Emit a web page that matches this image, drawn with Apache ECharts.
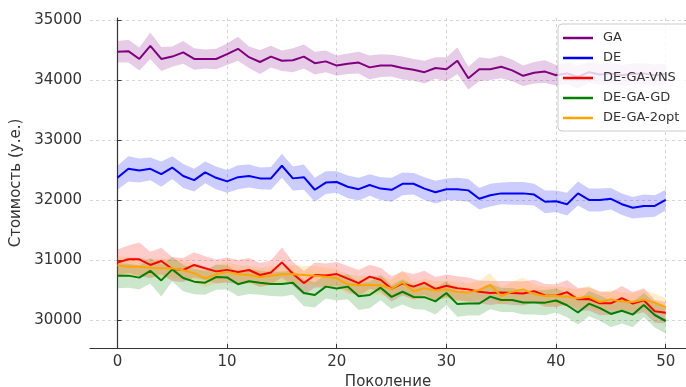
<!DOCTYPE html>
<html><head><meta charset="utf-8">
<script src="https://cdn.jsdelivr.net/npm/echarts@6/dist/echarts.min.js"></script>
<style>html,body{margin:0;padding:0;background:#fff}#c{width:686px;height:387px}</style>
</head><body><div id="c"></div>
<script>
const generations = [0,1,2,3,4,5,6,7,8,9,10,11,12,13,14,15,16,17,18,19,20,21,22,23,24,25,26,27,28,29,30,31,32,33,34,35,36,37,38,39,40,41,42,43,44,45,46,47,48,49,50];
const xTicks = [0,10,20,30,40,50];
const yTicks = [30000,31000,32000,33000,34000,35000];

const gaMean = [34470,34480,34350,34570,34350,34390,34460,34350,34350,34350,34430,34520,34380,34300,34390,34320,34330,34390,34280,34310,34240,34270,34290,34210,34240,34240,34200,34170,34130,34200,34180,34320,34030,34180,34180,34220,34160,34070,34120,34140,34080,34110,34050,34130,34090,34110,34080,34100,34110,34080,34100];
const gaSpread = [180,190,190,220,200,170,190,180,160,170,180,200,180,200,180,170,200,200,190,180,170,170,180,200,190,180,190,180,190,180,200,220,190,200,180,190,180,170,180,190,170,180,190,180,170,180,170,180,170,180,170];

const deMean = [32370,32520,32490,32520,32430,32540,32400,32330,32460,32370,32310,32380,32400,32360,32360,32570,32360,32380,32170,32290,32300,32220,32180,32250,32190,32170,32270,32270,32190,32130,32180,32180,32160,32020,32080,32110,32110,32110,32090,31970,31980,31930,32110,32000,32000,32020,31930,31870,31900,31900,32000];
const deSpread = [200,210,200,190,210,190,200,190,180,190,190,200,190,180,190,200,200,210,200,190,180,190,190,180,190,200,190,180,190,190,180,190,190,180,190,180,190,190,180,190,180,190,200,190,190,180,180,180,190,180,170];

const vnsMean = [30956,31011,31011,30917,30983,30850,30833,30917,30861,30810,30833,30800,30833,30750,30790,30960,30770,30615,30750,30740,30765,30690,30615,30722,30670,30520,30610,30556,30620,30517,30570,30530,30510,30470,30450,30460,30450,30440,30480,30410,30405,30465,30344,30350,30278,30278,30365,30275,30330,30145,30120];
const vnsSpread = [220,230,280,220,220,200,200,210,200,200,210,200,200,200,200,250,200,200,210,200,200,210,220,200,200,210,200,210,200,200,190,200,200,190,200,190,200,200,190,190,190,200,190,190,200,190,200,190,200,190,180];

const gdMean = [30739,30739,30706,30820,30660,30844,30700,30639,30622,30715,30710,30597,30645,30622,30600,30600,30622,30450,30417,30556,30525,30556,30395,30417,30539,30385,30470,30385,30380,30310,30450,30265,30275,30275,30389,30333,30333,30292,30292,30289,30325,30245,30125,30272,30197,30100,30153,30090,30250,30083,29983];
const gdSpread = [210,200,200,210,270,200,220,210,200,210,200,200,210,200,200,210,200,220,210,200,200,210,230,220,210,200,210,200,210,220,200,210,200,200,210,200,200,200,200,210,200,200,200,210,210,220,210,210,200,210,210];

const optMean = [30910,30889,30889,30872,30861,30861,30830,30780,30694,30761,30806,30761,30750,30715,30739,30761,30761,30750,30739,30722,30694,30594,30583,30583,30580,30520,30630,30480,30528,30490,30510,30472,30460,30500,30583,30400,30472,30510,30433,30400,30400,30389,30361,30390,30300,30340,30306,30300,30340,30289,30215];
const optSpread = [150,160,150,150,160,150,150,160,150,150,160,150,150,150,160,150,150,150,160,150,150,160,150,150,160,150,200,150,160,150,150,160,150,150,200,150,160,200,150,150,160,150,150,180,150,160,150,150,160,150,150];

const names = ['GA','DE','DE-GA-VNS','DE-GA-GD','DE-GA-2opt'];
const means = [gaMean, deMean, vnsMean, gdMean, optMean];
const spreads = [gaSpread, deSpread, vnsSpread, gdSpread, optSpread];
const colors = ['#800080','#0000ff','#ff0000','#008000','#ffa500'];

const series = [];
names.forEach((n, i) => {
  const upper = generations.map((g, j) => [g, means[i][j] + spreads[i][j]]);
  const lower = generations.map((g, j) => [g, means[i][j] - spreads[i][j]]);
  series.push({
    type: 'custom', name: n + ' band', silent: true, z: 1, clip: true,
    data: [[generations[0], means[i][0]]],
    renderItem: function (params, api) {
      const pts = [];
      upper.forEach(p => pts.push(api.coord(p)));
      for (let k = lower.length - 1; k >= 0; k--) pts.push(api.coord(lower[k]));
      return {
        type: 'polygon',
        shape: { points: pts },
        style: { fill: colors[i], opacity: 0.2, stroke: null }
      };
    }
  });
});
names.forEach((n, i) => {
  series.push({
    type: 'line', name: n, symbol: 'none', z: 2,
    itemStyle: { color: colors[i] },
    lineStyle: { color: colors[i], width: 2 },
    data: generations.map((g, j) => [g, means[i][j]])
  });
});

const font = 'DejaVu Sans';
const chart = echarts.init(document.getElementById('c'), null, { renderer: 'canvas' });
chart.setOption({
  animation: false,
  backgroundColor: '#fff',
  grid: { left: 90, right: 0, top: 18, bottom: 39, containLabel: false, outerBoundsMode: 'none' },
  xAxis: {
    type: 'value', min: -2.5, max: 51.85,
    name: 'Поколение', nameLocation: 'middle', nameGap: 26,
    nameTextStyle: { fontFamily: font, fontSize: 15, color: '#333' },
    axisLine: { show: true, lineStyle: { color: '#333', width: 1.2 } },
    axisTick: { show: true, inside: true, length: 4, customValues: xTicks, lineStyle: { color: '#333' } },
    axisLabel: { customValues: xTicks, fontFamily: font, fontSize: 15, color: '#333', margin: 7 },
    splitLine: { show: true, lineStyle: { color: '#cccccc', type: [3, 3], width: 0.8 } }
  },
  yAxis: {
    type: 'value', min: 29533, max: 35033,
    name: 'Стоимость (у.е.)', nameLocation: 'middle', nameGap: 52, nameRotate: 90,
    nameTextStyle: { fontFamily: font, fontSize: 15, color: '#333' },
    axisLine: { show: true, lineStyle: { color: '#333', width: 1.2 } },
    axisTick: { show: true, inside: true, length: 4, customValues: yTicks, lineStyle: { color: '#333' } },
    axisLabel: { customValues: yTicks, formatter: v => String(v), fontFamily: font, fontSize: 15, color: '#333', margin: 8 },
    splitLine: { show: true, lineStyle: { color: '#cccccc', type: [3, 3], width: 0.8 } }
  },
  legend: {
    data: names, orient: 'vertical', left: 558, top: 24, z: 10,
    icon: 'rect', itemWidth: 30, itemHeight: 2.5, itemGap: 6,
    padding: [7, 10, 6, 5],
    backgroundColor: 'rgba(255,255,255,0.8)', borderColor: '#cccccc', borderWidth: 1, borderRadius: 4,
    textStyle: { fontFamily: font, fontSize: 13, color: '#333', lineHeight: 14, padding: [0, 0, 0, 5] }
  },
  series: series
});
</script>
</body></html>
